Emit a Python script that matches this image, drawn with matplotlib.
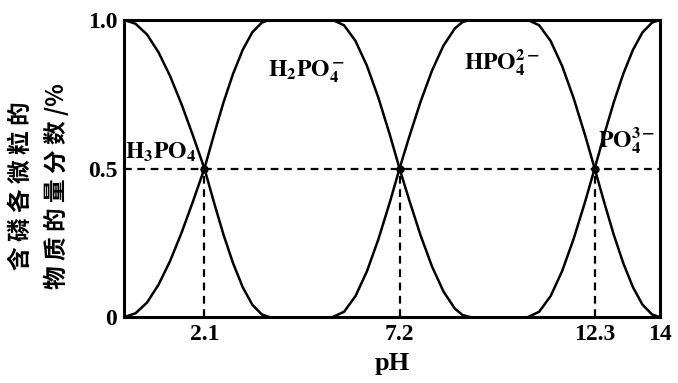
import matplotlib.pyplot as plt

plt.rcParams['mathtext.fontset'] = 'stix'
plt.rcParams['font.family'] = ['Liberation Serif', 'DejaVu Serif']

# values (pH, fraction)
ph_t1 = [0, 0.3, 0.6, 0.9, 1.2, 1.5, 1.8, 2.1, 2.35, 2.6, 2.85, 3.1, 3.35, 3.6, 3.8]
h3po4 = [1.0, 0.987, 0.951, 0.891, 0.812, 0.717, 0.611, 0.5, 0.386, 0.277, 0.181, 0.101, 0.042, 0.009, 0.0]
h2po4_up = [0.0, 0.013, 0.049, 0.109, 0.188, 0.283, 0.389, 0.5, 0.614, 0.723, 0.819, 0.899, 0.958, 0.991, 1.0]

ph_t2 = [5.45, 5.75, 6.05, 6.35, 6.65, 6.95, 7.2, 7.45, 7.75, 8.05, 8.35, 8.65, 8.85, 9.05]
h2po4_down = [1.0, 0.982, 0.929, 0.845, 0.737, 0.612, 0.5, 0.395, 0.275, 0.170, 0.086, 0.028, 0.007, 0.0]
hpo4_up = [0.0, 0.018, 0.071, 0.155, 0.263, 0.388, 0.5, 0.605, 0.725, 0.830, 0.914, 0.972, 0.993, 1.0]

ph_t3 = [10.55, 10.85, 11.15, 11.45, 11.75, 12.05, 12.3, 12.55, 12.8, 13.05, 13.3, 13.55, 13.8, 14.0]
hpo4_down = [1.0, 0.982, 0.929, 0.845, 0.737, 0.612, 0.5, 0.386, 0.277, 0.181, 0.101, 0.042, 0.009, 0.0]
po4 = [0.0, 0.018, 0.071, 0.155, 0.263, 0.388, 0.5, 0.614, 0.723, 0.819, 0.899, 0.958, 0.991, 1.0]

pka = [2.1, 7.2, 12.3]
xticks = [2.1, 7.2, 12.3, 14]
xticklabels = ['2.1', '7.2', '12.3', '14']
yticks = [0, 0.5, 1.0]
yticklabels = ['0', '0.5', '1.0']

fig = plt.figure(figsize=(6.78, 3.83), dpi=100)
ax = fig.add_axes([0.183, 0.172, 0.790, 0.776])

lw = 1.8
ax.plot(ph_t1, h3po4, color='black', lw=lw)
ax.plot(ph_t1 + ph_t2, h2po4_up + h2po4_down, color='black', lw=lw)
ax.plot(ph_t2 + ph_t3, hpo4_up + hpo4_down, color='black', lw=lw)
ax.plot(ph_t3, po4, color='black', lw=lw)

# dashed guides
ax.plot([0, 14], [0.5, 0.5], color='black', lw=1.6, ls=(0, (3.5, 2.5)))
for p in pka:
    ax.plot([p, p], [0, 0.5], color='black', lw=1.6, ls=(0, (3.5, 2.5)))
    ax.plot(p, 0.5, 'o', color='black', ms=5)

ax.set_xlim(0, 14)
ax.set_ylim(0, 1.0)
ax.set_xticks(xticks)
ax.set_xticklabels(xticklabels)
ax.set_yticks(yticks)
ax.set_yticklabels(yticklabels)
ax.tick_params(length=0, labelsize=17, pad=5)
for lab in ax.get_xticklabels() + ax.get_yticklabels():
    lab.set_fontweight('bold')
for s in ax.spines.values():
    s.set_linewidth(2.2)

ax.set_xlabel('pH', fontsize=19, fontweight='bold', labelpad=5)
fig.text(0.058, 0.515, '含 磷 各 微 粒 的\n物 质 的 量 分 数 /%', rotation=90, ha='center', va='center',
         fontsize=17, fontweight='bold', family=['Noto Sans CJK SC'], linespacing=1.55)

ax.text(0.03, 0.555, r'$\mathbf{H_3PO_4}$', fontsize=17, ha='left', va='center')
ax.text(4.78, 0.825, r'$\mathbf{H_2PO_4^-}$', fontsize=17, ha='center', va='center')
ax.text(9.87, 0.855, r'$\mathbf{HPO_4^{2-}}$', fontsize=17, ha='center', va='center')
ax.text(13.13, 0.595, r'$\mathbf{PO_4^{3-}}$', fontsize=17, ha='center', va='center')

fig.savefig('out.png', dpi=100)
